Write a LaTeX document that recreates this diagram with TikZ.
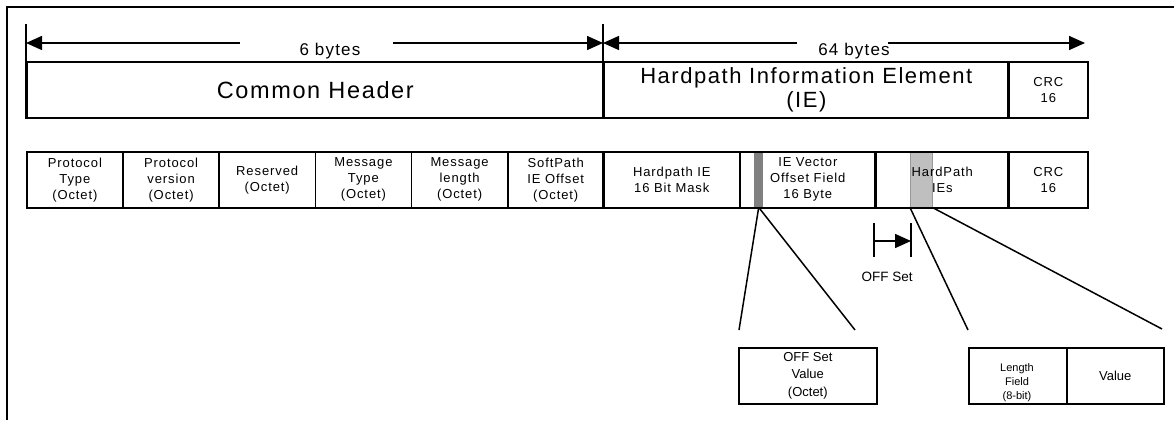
\documentclass[tikz,border=0pt]{standalone}
\usepackage{fontspec}
\setmainfont{Liberation Sans}
\newfontfamily\spaced[LetterSpace=7]{Liberation Sans}
\usetikzlibrary{arrows.meta}
\begin{document}
\begin{tikzpicture}[x=1pt,y=-1pt,
  cell/.style={draw, line width=1.6pt, inner sep=0pt, anchor=north west, align=center,
    minimum height=56pt, font=\spaced\fontsize{13}{16}\selectfont},
  big/.style={font=\spaced\fontsize{22}{24.5}\selectfont},
  dimline/.style={line width=1.5pt},
  thickdiv/.style={line width=2.8pt},
  tip/.style={-{Triangle[length=16pt,width=14pt]}},
  zoomline/.style={line width=1.5pt},
  lbl/.style={inner sep=0pt, align=center},
]
\useasboundingbox (0,0) rectangle (1174,420);
\draw[line width=2.4pt] (7,420) -- (7,7) -- (1174,7);

% top row
\node[cell, font=\spaced\fontsize{23.5}{24}\selectfont, minimum width=577pt] (hdr) at (26,61) {Common Header};
\node[cell, big, minimum width=405pt] (hie) at (603,61) {Hardpath Information Element\\(IE)};
\node[cell, minimum width=79pt] (crc1) at (1008,61) {CRC\\16};
\draw[thickdiv] (crc1.north west) -- (crc1.south west);

% dimension ticks and arrows
\coordinate (tk0) at (26,24);
\coordinate (tk1) at (603,24);
\draw[dimline] (tk0) -- (hdr.south west);
\draw[dimline] (tk1) -- (hie.south west);
\coordinate (a0) at (26,43);
\coordinate (a1) at (603,43);
\coordinate (a2) at (1085,43);
\node[lbl, font=\spaced\fontsize{17}{17}\selectfont] (six) at (330,51) {6 bytes};
\coordinate (s6l) at (240,43);
\coordinate (s6r) at (393,43);
\draw[dimline,tip] (s6l) -- (a0);
\draw[dimline,tip] (s6r) -- (a1);
\node[lbl, font=\spaced\fontsize{17}{17}\selectfont] (sixtyfour) at (854,51) {64 bytes};
\coordinate (s64l) at (797,43);
\coordinate (s64r) at (888,43);
\draw[dimline,tip] (s64l) -- (a1);
\draw[dimline,tip] (s64r) -- (a2);

% gray bars
\node[fill=black!50, inner sep=0pt, anchor=north west, minimum width=9pt, minimum height=56pt] (dbar) at (754,151) {};
\node[fill=black!25, draw=black!40, line width=0.6pt, inner sep=0pt, anchor=north west, minimum width=22pt, minimum height=56pt] (lbar) at (910,151) {};

% second row
\node[cell, minimum width=96.2pt] (p1) at (26,151) {Protocol\\Type\\(Octet)};
\node[cell, minimum width=96.2pt] (p2) at (122.2,151) {Protocol\\version\\(Octet)};
\node[cell, minimum width=96.2pt] (p3) at (218.3,151) {Reserved\\(Octet)};
\node[cell, minimum width=96.2pt] (p4) at (314.5,151) {Message\\Type\\(Octet)};
\node[cell, minimum width=96.2pt] (p5) at (410.7,151) {Message\\length\\(Octet)};
\node[cell, minimum width=96.2pt] (p6) at (506.8,151) {SoftPath\\IE Offset\\(Octet)};
\node[cell, minimum width=136pt] (p7) at (603,151) {Hardpath IE\\16 Bit Mask};
\node[cell, minimum width=136pt] (p8) at (739,151) {IE Vector\\Offset Field\\16 Byte};
\node[cell, minimum width=133pt] (p9) at (875,151) {HardPath\\IEs};
\node[cell, minimum width=79pt] (p10) at (1008,151) {CRC\\16};
\draw[thickdiv] (p7.north west) -- (p7.south west);
\draw[thickdiv] (p9.north west) -- (p9.south west);
\draw[thickdiv] (p10.north west) -- (p10.south west);

% offset marker
\coordinate (o1t) at (874,223); \coordinate (o1b) at (874,257);
\coordinate (o2t) at (911,223); \coordinate (o2b) at (911,257);
\coordinate (o1m) at (874,241); \coordinate (o2m) at (911,241);
\draw[dimline] (o1t) -- (o1b);
\draw[dimline] (o2t) -- (o2b);
\draw[dimline,tip] (o1m) -- (o2m);
\node[lbl, font=\fontsize{13.5}{14}\selectfont] (offlbl) at (887,277) {OFF Set};

% expansion lines
\coordinate (z1) at (739,330);
\coordinate (z2) at (855,330);
\coordinate (z3) at (968,330);
\coordinate (z4) at (1162,329);
\draw[zoomline] (dbar.south) -- (z1);
\draw[zoomline] (dbar.south) -- (z2);
\draw[zoomline] (lbar.south west) -- (z3);
\draw[zoomline] (lbar.south east) -- (z4);

% bottom boxes
\node[cell, minimum width=138pt, font=\fontsize{13}{17.5}\selectfont] (offv) at (738,347) {OFF Set\\Value\\(Octet)};
\node[cell, minimum width=98pt] (lenf) at (968,347) {};
\node[lbl, font=\fontsize{11}{14}\selectfont] (lenlbl) at (1017,383) {Length\\Field\\(8-bit)};
\node[cell, minimum width=97pt, font=\fontsize{13}{15}\selectfont] (valf) at (1066,347) {Value};
\end{tikzpicture}
\end{document}
